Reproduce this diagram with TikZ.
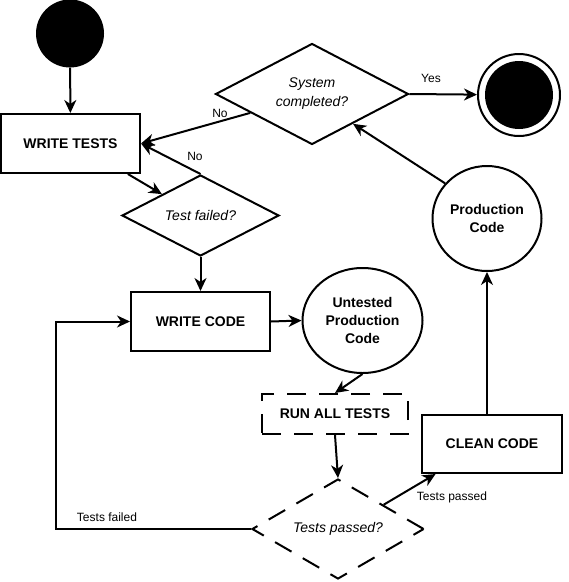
\documentclass[tikz,border=0pt]{standalone}
\usepackage{fontspec}
\setmainfont{Liberation Sans}
\usetikzlibrary{arrows.meta,shapes.geometric}

\begin{document}
\begin{tikzpicture}[x=1pt,y=-1pt,
  box/.style={draw,rectangle,line width=2pt,inner sep=0pt,font=\bfseries\fontsize{14}{18}\selectfont},
  rhomb/.style={draw,diamond,aspect=2,line width=2pt,inner sep=0pt,align=center,font=\itshape\fontsize{14}{19}\selectfont},
  oval/.style={draw,ellipse,line width=2pt,inner sep=0pt,align=center,font=\bfseries\fontsize{14}{18}\selectfont},
  dashline/.style={dash pattern=on 19pt off 13pt},
  arr/.style={-{Stealth[length=13pt,width=12pt,inset=4pt]},line width=2pt},
  lbl/.style={inner sep=0pt,font=\fontsize{12}{14}\selectfont}]
\useasboundingbox (0,0) rectangle (569,582);
\node [circle,fill=black,minimum size=68pt,inner sep=0pt] (start) at (70,33.5) {};
\node [box,minimum width=139pt,minimum height=59pt] (wtests) at (70.5,143.5) {WRITE TESTS};
\node [rhomb,minimum width=157pt,minimum height=81pt] (tfail) at (200.5,215.5) {Test failed?};
\node [rhomb,minimum width=193pt,minimum height=101pt] (syscomp) at (312,94) {System\\completed?};
\node [circle,draw,line width=2pt,minimum size=82pt,inner sep=0pt] (stop) at (519,95) {};
\node [circle,fill=black,minimum size=68pt,inner sep=0pt] (stopdot) at (stop) {};
\node [oval,minimum width=109pt,minimum height=105pt] (prodcode) at (487,218.5) {Production\\Code};
\node [box,minimum width=139pt,minimum height=59pt] (wcode) at (200.5,321.5) {WRITE CODE};
\node [oval,minimum width=120pt,minimum height=105pt] (untested) at (362.5,320.5) {Untested\\Production\\Code};
\node [box,dashline,minimum width=146pt,minimum height=40pt] (runall) at (335,414) {RUN ALL TESTS};
\node [rhomb,dashline,minimum width=172pt,minimum height=100pt] (tpass) at (338,529) {Tests passed?};
\node [box,minimum width=140pt,minimum height=58pt] (clean) at (492,444) {CLEAN CODE};
\coordinate (loop) at (56,529);

\draw [arr] (start) -- (wtests);
\draw [arr] (wtests.-28) -- (tfail.151);
\draw [arr] (tfail.north) -- (wtests.east);
\draw [arr] (syscomp.197) -- (wtests.east);
\draw [arr] (syscomp.east) -- (stop);
\draw [arr] (prodcode.140) -- (syscomp.-36);
\draw [arr] (clean.north -| prodcode.south) -- (prodcode.south);
\draw [arr] (tfail.south) -- (wcode.north);
\draw [arr] (wcode.east) -- (untested.west);
\draw [arr] (untested.south) -- (runall.north);
\draw [arr] (runall.south) -- (tpass.north);
\draw [arr] (tpass.28) -- (clean.208);
\draw [arr] (tpass.west) -- (loop) |- (wcode.west);

\node [lbl] (nofail) at (195,156) {No};
\node [lbl] (nosys) at (220,113) {No};
\node [lbl] (yes) at (431,78) {Yes};
\node [lbl] (passed) at (452,497) {Tests passed};
\node [lbl] (failed) at (107,517) {Tests failed};
\end{tikzpicture}
\end{document}
